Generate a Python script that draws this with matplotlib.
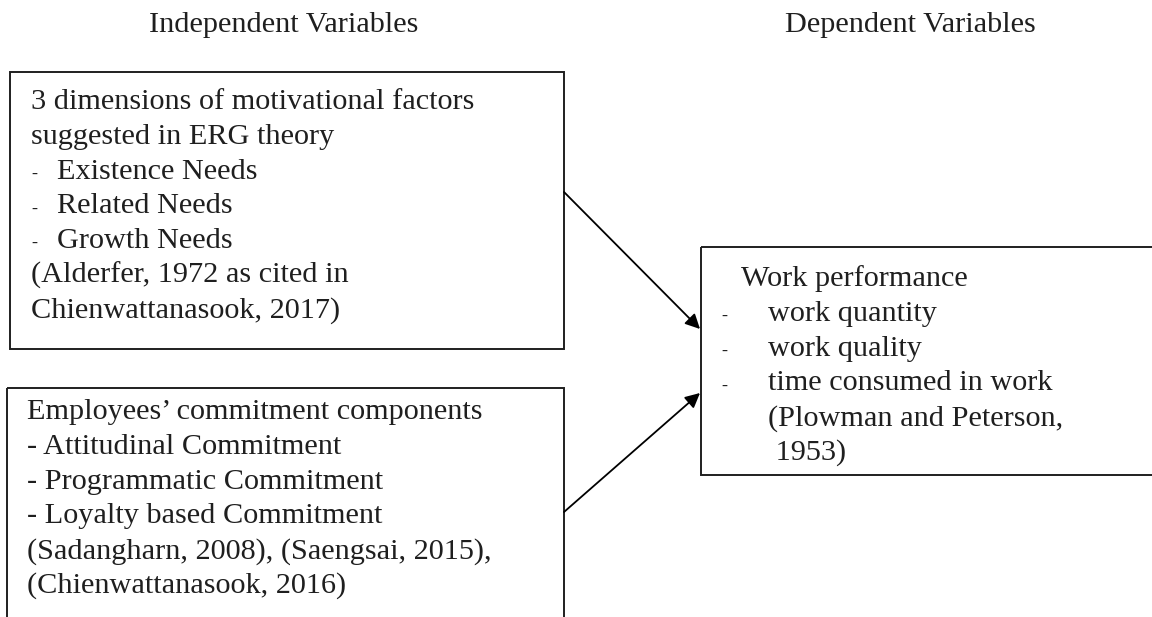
import matplotlib.pyplot as plt
from matplotlib.patches import Rectangle

# texto del diagrama
header_left = "Independent Variables"
header_right = "Dependent Variables"

erg_title = ["3 dimensions of motivational factors", "suggested in ERG theory"]
erg_items = ["Existence Needs", "Related Needs", "Growth Needs"]
erg_refs = ["(Alderfer, 1972 as cited in", "Chienwattanasook, 2017)"]

commit_lines = [
    "Employees\u2019 commitment components",
    "- Attitudinal Commitment",
    "- Programmatic Commitment",
    "- Loyalty based Commitment",
    "(Sadangharn, 2008), (Saengsai, 2015),",
    "(Chienwattanasook, 2016)",
]

perf_title = "Work performance"
perf_items = ["work quantity", "work quality", "time consumed in work"]
perf_refs = ["(Plowman and Peterson,", " 1953)"]

plt.rcParams['font.family'] = ['Liberation Serif', 'DejaVu Serif']
fs = 21.8
col = '#1f1f1f'
pitch = 34.8

fig = plt.figure(figsize=(11.52, 6.17), dpi=100, facecolor='white')
ax = fig.add_axes([0, 0, 1, 1])
ax.set_xlim(0, 1152)
ax.set_ylim(617, 0)
ax.axis('off')

# encabezados
ax.text(284, 32, header_left, fontsize=fs, color=col, ha='center', va='baseline')
ax.text(910, 32, header_right, fontsize=fs, color=col, ha='center', va='baseline')

# cajas
ax.add_patch(Rectangle((10, 72), 554, 277, fill=False, lw=1.4, ec=col))
ax.add_patch(Rectangle((7, 388), 557, 260, fill=False, lw=1.4, ec=col, clip_on=True))
ax.add_patch(Rectangle((701, 247), 470, 228, fill=False, lw=1.4, ec=col, clip_on=True))

# caja 1: ERG
y = 109
for s in erg_title:
    ax.text(31, y, s, fontsize=fs, color=col, va='baseline')
    y += pitch
for s in erg_items:
    ax.text(31, y, "-", fontsize=fs * 0.6, color=col, va='baseline')
    ax.text(57, y, s, fontsize=fs, color=col, va='baseline')
    y += pitch
for s in erg_refs:
    ax.text(31, y, s, fontsize=fs, color=col, va='baseline')
    y += pitch

# caja 2: compromiso
y = 419
for s in commit_lines:
    ax.text(27, y, s, fontsize=fs, color=col, va='baseline')
    y += pitch

# caja 3: desempeño
y = 286
ax.text(741, y, perf_title, fontsize=fs, color=col, va='baseline')
y += pitch
for s in perf_items:
    ax.text(721, y, "-", fontsize=fs * 0.6, color=col, va='baseline')
    ax.text(768, y, s, fontsize=fs, color=col, va='baseline')
    y += pitch
for s in perf_refs:
    ax.text(768, y, s, fontsize=fs, color=col, va='baseline')
    y += pitch

# flechas
arrow = dict(arrowstyle='-|>', color='black', lw=1.3, mutation_scale=22,
             shrinkA=0, shrinkB=0)
ax.annotate("", xy=(700, 329), xytext=(564, 192), arrowprops=arrow)
ax.annotate("", xy=(700, 393), xytext=(564, 512), arrowprops=arrow)

plt.savefig('out.png', dpi=100, facecolor='white')
